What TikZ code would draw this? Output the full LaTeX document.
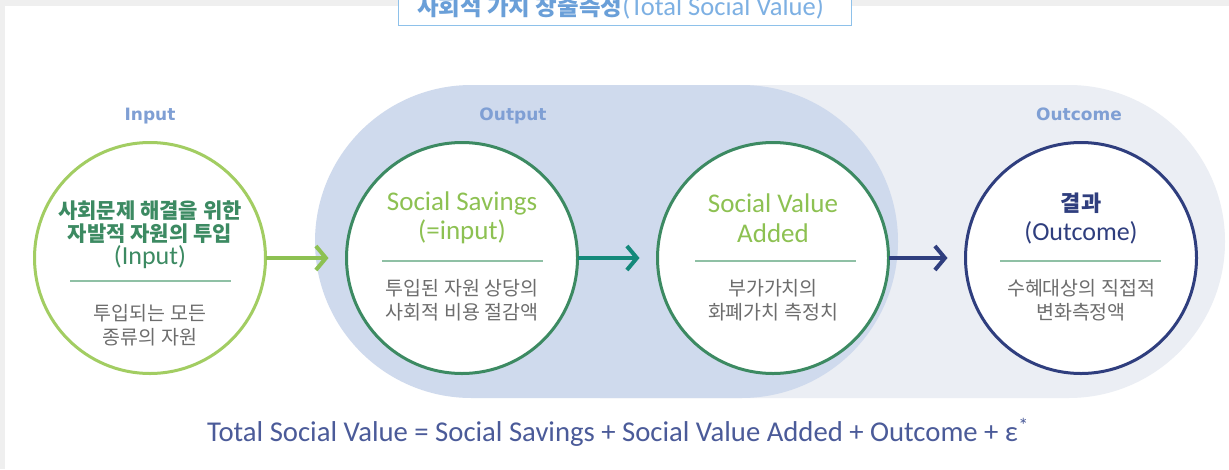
\documentclass[tikz,border=0pt]{standalone}
\usepackage{fontspec}
\usetikzlibrary{arrows.meta,shapes.misc}
\newfontfamily\kr{Noto Sans CJK KR}
\newfontfamily\en{Carlito}
\newfontfamily\lab{DejaVu Sans}
\definecolor{bggray}{HTML}{EFEFEF}
\definecolor{titleblue}{HTML}{8EC1EA}
\definecolor{titletxt}{HTML}{6A9FD8}
\definecolor{titletxtl}{HTML}{7DB0E3}
\definecolor{outblue}{HTML}{CFDAED}
\definecolor{outgray}{HTML}{EBEEF4}
\definecolor{lblcol}{HTML}{7F9FD4}
\definecolor{ingreen}{HTML}{A2CD62}
\definecolor{darkgreen}{HTML}{3C8A62}
\definecolor{ltgreen}{HTML}{8DC152}
\definecolor{teal}{HTML}{14897A}
\definecolor{navy}{HTML}{2F3E7E}
\definecolor{sepcol}{HTML}{8FC0A5}
\definecolor{desccol}{HTML}{6D6D6D}
\definecolor{formcol}{HTML}{4B5B99}
\tikzset{
  lbl/.style={text=lblcol, font=\lab\bfseries\fontsize{17}{20}\selectfont, inner sep=0pt, anchor=base},
  circ/.style={circle, minimum size=231pt, inner sep=0pt, outer sep=0pt, line width=3pt, fill=white},
  arr/.style={line width=4pt, -{Straight Barb[length=10pt,width=24pt]}, shorten >=18pt},
  sepline/.style={draw=sepcol, line width=1.5pt},
  desc/.style={text=desccol, align=center, inner sep=0pt, font=\kr\fontsize{19.5}{24.5}\selectfont},
  entitle/.style={align=center, inner sep=0pt, font=\en\fontsize{27}{29.5}\selectfont},
}
\begin{document}
\begin{tikzpicture}[x=1pt,y=-1pt]
\useasboundingbox (0,0) rectangle (1229,469);
\fill[bggray] (0,0) rectangle (1229,469);
\fill[white] (5,6) rectangle (1229,469);
% title box
\node[draw=titleblue, fill=white, line width=1pt, minimum width=453pt, minimum height=40pt, inner sep=0pt] (titlebox) at (624.5,5.5) {};
\node[anchor=base, inner sep=0pt] (title) at (620.5,15) {{\kr\bfseries\color{titletxt}\fontsize{23.5}{25}\selectfont 사회적 가치 창출측정}{\en\color{titletxtl}\fontsize{26.5}{28}\selectfont (Total Social Value)}};
% regions
\node[rounded rectangle, rounded rectangle left arc=none, fill=outgray, minimum width=625pt, minimum height=313pt, inner sep=0pt] (outcomeregion) at (912.5,241.5) {};
\node[rounded rectangle, fill=outblue, minimum width=583pt, minimum height=313pt, inner sep=0pt] (outputregion) at (606.5,241.5) {};
% labels
\node[lbl] (linput) at (150,120) {Input};
\node[lbl] (loutput) at (513,120) {Output};
\node[lbl] (loutcome) at (1079,120) {Outcome};
% circles
\node[circ, draw=ingreen] (in) at (150,258) {};
\node[circ, draw=darkgreen] (ss) at (462,258) {};
\node[circ, draw=darkgreen] (sva) at (773,258) {};
\node[circ, draw=navy] (oc) at (1081,258) {};
% arrows
\draw[arr, draw=ltgreen] (in) -- (ss);
\draw[arr, draw=teal] (ss) -- (sva);
\draw[arr, draw=navy] (sva) -- (oc);
% input text
\node[align=center, inner sep=0pt, text=darkgreen, font=\kr\bfseries\fontsize{21}{23.5}\selectfont] (intitle) at (150,222) {사회문제 해결을 위한\\자발적 자원의 투입};
\node[inner sep=0pt, text=darkgreen, font=\en\fontsize{26}{28}\selectfont] (ininput) at (150,257) {(Input)};
\coordinate (insl) at (70,281);
\coordinate (insr) at (231,281);
\draw[sepline] (insl) -- (insr);
\node[desc] (indesc) at (150,325) {투입되는 모든\\종류의 자원};
% social savings
\node[entitle, text=ltgreen] (sstitle) at (462,218) {Social Savings\\(=input)};
\coordinate (sssl) at (382,261);
\coordinate (sssr) at (543,261);
\draw[sepline] (sssl) -- (sssr);
\node[desc] (ssdesc) at (462,300) {투입된 자원 상당의\\사회적 비용 절감액};
% social value added
\node[entitle, text=ltgreen] (svatitle) at (773,218) {Social Value\\Added};
\coordinate (svasl) at (695,261);
\coordinate (svasr) at (856,261);
\draw[sepline] (svasl) -- (svasr);
\node[desc] (svadesc) at (773,300) {부가가치의\\화폐가치 측정치};
% outcome
\node[inner sep=0pt, text=navy, font=\kr\bfseries\fontsize{22}{24}\selectfont] (octitle) at (1081,203) {결과};
\node[inner sep=0pt, text=navy, font=\en\fontsize{26}{28}\selectfont] (ocen) at (1081,233) {(Outcome)};
\coordinate (ocsl) at (1000,261);
\coordinate (ocsr) at (1161,261);
\draw[sepline] (ocsl) -- (ocsr);
\node[desc] (ocdesc) at (1081,300) {수혜대상의 직접적\\변화측정액};
% formula
\node[inner sep=0pt, text=formcol, font=\en\fontsize{28.7}{31}\selectfont] (formula) at (618,432) {Total Social Value = Social Savings + Social Value Added + Outcome + ε\textsuperscript{*}};
\end{tikzpicture}
\end{document}
